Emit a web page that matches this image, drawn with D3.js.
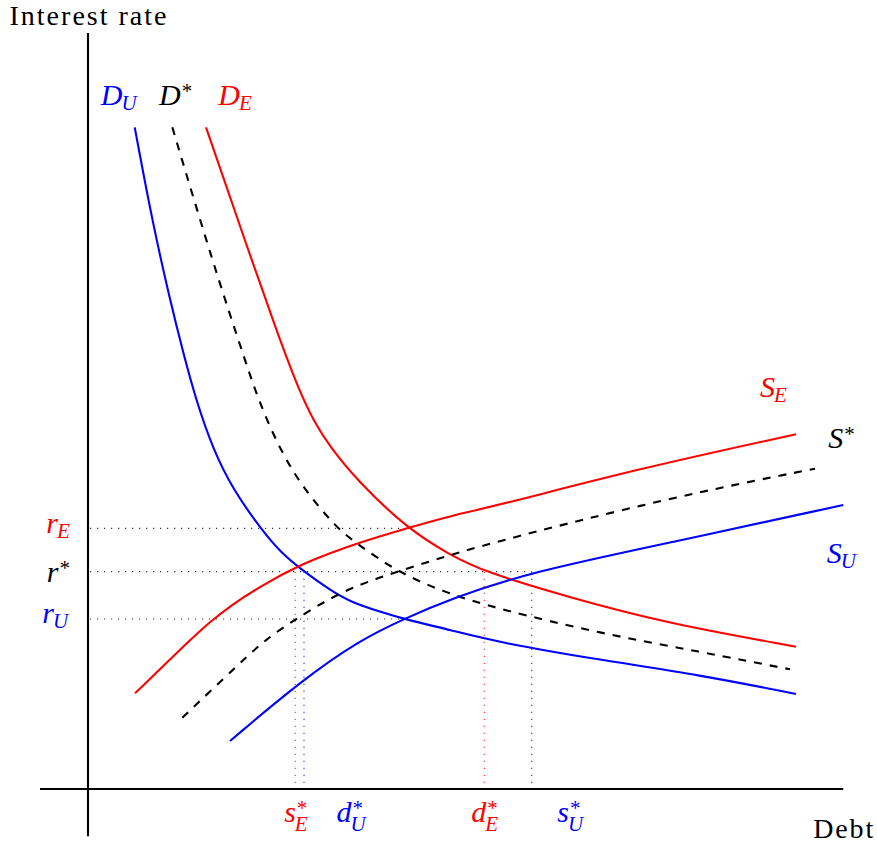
<!DOCTYPE html>
<html>
<head>
<meta charset="utf-8">
<script src="https://cdn.jsdelivr.net/npm/d3@7"></script>
<style>
  html, body { margin: 0; padding: 0; background: #fff; }
  svg { display: block; }
  text { font-family: "Liberation Serif", "Times New Roman", serif; }
</style>
</head>
<body>
<div id="chart"></div>
<script>
// ── Curves (debt, interest rate) ─────────────────────────────
const demandU = [[0.584,8.271],[0.8,7.113],[1.025,6.113],[1.191,5.45],[1.35,4.863],
  [1.566,4.238],[1.816,3.738],[2.171,3.238],[2.4,2.966],[2.7,2.716],[3.025,2.488],
  [3.275,2.341],[3.65,2.216],[3.95,2.125],[4.525,1.988],[5.15,1.829],[6.4,1.613],
  [7.65,1.425],[8.85,1.188]];
const demandStar = [[1.054,8.271],[1.4,7.113],[1.713,6.113],[1.963,5.363],[2.129,4.863],
  [2.4,4.238],[2.691,3.759],[3.109,3.259],[3.359,3.071],[3.859,2.716],[4.484,2.446],
  [5.15,2.246],[6.4,1.946],[7.65,1.716],[8.775,1.496]];
const demandE = [[1.475,8.271],[2.046,6.613],[2.338,5.779],[2.65,4.946],[2.838,4.571],
  [3.025,4.279],[3.359,3.863],[3.984,3.259],[4.525,2.925],[4.954,2.716],[5.984,2.404],
  [7.234,2.071],[8.85,1.779]];
const supplyE = [[0.588,1.196],[1.275,1.863],[1.525,2.088],[1.775,2.288],[2.191,2.556],
  [2.65,2.8],[3.025,2.946],[3.359,3.071],[3.984,3.259],[4.525,3.413],[5.15,3.55],
  [6.816,3.988],[8.85,4.434]];
const supplyStar = [[1.179,0.891],[1.941,1.613],[2.213,1.863],[2.588,2.121],[3.191,2.488],
  [3.859,2.716],[4.525,2.925],[5.15,3.104],[7.234,3.634],[9.088,4.004]];
const supplyU = [[1.775,0.6],[2.65,1.341],[3.4,1.863],[3.95,2.125],[4.525,2.375],
  [5.546,2.716],[7.234,3.071],[9.441,3.55]];

// equilibrium rates and the debt where each dotted guide stops
const rateNames  = ["rE", "rStar", "rU"];
const rateValues = [3.259, 2.716, 2.125];
const rateEnds   = [3.984, 5.546, 3.95];

// quantities at the world rate r*
const qtyNames  = ["sE", "dU", "dE", "sU"];
const qtyValues = [2.591, 2.7, 4.954, 5.546];

const xExtent = [-0.6, 9.44];
const yExtent = [-0.59, 9.45];

// ── Layout ───────────────────────────────────────────────────
const W = 877, H = 845;
const RED = "#ff0000", BLUE = "#0000ff", BLACK = "#000";
const FS = 30, FS_SMALL = 21;

const svg = d3.select("#chart").append("svg")
  .attr("width", W).attr("height", H)
  .attr("viewBox", `0 0 ${W} ${H}`);
svg.append("rect").attr("width", W).attr("height", H).attr("fill", "#fff");

const x = d3.scaleLinear().domain(xExtent).range([40, 843.2]);
const y = d3.scaleLinear().domain(yExtent).range([836.2, 33]);

const line = d3.line()
  .x(d => x(d[0])).y(d => y(d[1]))
  .curve(d3.curveBasis);

// ── Dotted guides ────────────────────────────────────────────
const guides = svg.append("g").attr("fill", "none").attr("stroke-width", 1.2)
  .attr("stroke-dasharray", "1.2,5.8");

rateValues.forEach((r, i) => {
  guides.append("line")
    .attr("x1", x(0) + 2).attr("x2", x(rateEnds[i]))
    .attr("y1", y(r)).attr("y2", y(r))
    .attr("stroke", "#333");
});

const qtyColor = { sE: RED, dU: BLUE, dE: RED, sU: BLUE };
qtyValues.forEach((q, i) => {
  guides.append("line")
    .attr("x1", x(q)).attr("x2", x(q))
    .attr("y1", y(rateValues[1])).attr("y2", y(0))
    .attr("stroke", qtyColor[qtyNames[i]])
    .attr("stroke-opacity", 0.75);
});

// ── Curves ───────────────────────────────────────────────────
const curves = [
  { pts: demandU,    color: BLUE,  dash: null },
  { pts: demandStar, color: BLACK, dash: "8,8" },
  { pts: demandE,    color: RED,   dash: null },
  { pts: supplyE,    color: RED,   dash: null },
  { pts: supplyStar, color: BLACK, dash: "8,8" },
  { pts: supplyU,    color: BLUE,  dash: null }
];
svg.append("g").selectAll("path").data(curves).join("path")
  .attr("d", d => line(d.pts))
  .attr("fill", "none")
  .attr("stroke", d => d.color)
  .attr("stroke-width", 2.1)
  .attr("stroke-dasharray", d => d.dash);

// ── Axes ─────────────────────────────────────────────────────
const axes = svg.append("g").attr("stroke", BLACK).attr("stroke-width", 2.1);
axes.append("line").attr("x1", x(xExtent[0])).attr("x2", x(xExtent[1]))
  .attr("y1", y(0)).attr("y2", y(0));
axes.append("line").attr("x1", x(0)).attr("x2", x(0))
  .attr("y1", y(yExtent[0])).attr("y2", y(yExtent[1]));

svg.append("text").attr("x", x(0)).attr("y", 25)
  .attr("text-anchor", "middle").attr("font-size", 28)
  .attr("textLength", 157).attr("lengthAdjust", "spacing")
  .text("Interest rate");
svg.append("text").attr("x", x(xExtent[1])).attr("y", 838)
  .attr("text-anchor", "middle").attr("font-size", 28)
  .attr("textLength", 60).attr("lengthAdjust", "spacing")
  .text("Debt");

// ── Math labels: italic base, optional superscript / subscript ──
function mathLabel(px, py, base, sub, sup, color, anchor) {
  const t = svg.append("text").attr("fill", color).attr("y", 0);
  t.append("tspan").attr("font-style", "italic").attr("font-size", FS).text(base);
  const w = t.node().getComputedTextLength();
  let shift = 0;
  if (sup) {
    t.append("tspan").attr("dx", 1).attr("dy", -7)
      .attr("font-size", FS_SMALL).text(sup);
    shift = -7;
  }
  if (sub) {
    const drop = sup ? 9.5 : 5;
    t.append("tspan").attr("x", w - 1).attr("dy", drop - shift)
      .attr("font-style", "italic").attr("font-size", FS_SMALL).text(sub);
  }
  const bb = t.node().getBBox();
  const end = bb.x + bb.width;
  const off = anchor === "middle" ? -end / 2 : anchor === "end" ? -end : 0;
  t.attr("transform", `translate(${px + off},${py})`);
}

// curve names
mathLabel(x(0.159), y(8.55), "D", "U", null, BLUE, "start");
mathLabel(x(0.888), y(8.55), "D", null, "*", BLACK, "start");
mathLabel(x(1.629), y(8.55), "D", "E", null, RED, "start");
mathLabel(x(8.4),   y(4.904), "S", "E", null, RED, "start");
mathLabel(x(9.254), y(4.259), "S", null, "*", BLACK, "start");
mathLabel(x(9.234), y(2.829), "S", "U", null, BLUE, "start");

// rates on the vertical axis
mathLabel(x(-0.225), y(3.196), "r", "E", null, RED, "end");
mathLabel(x(-0.225), y(2.591), "r", null, "*", BLACK, "end");
mathLabel(x(-0.225), y(2.075), "r", "U", null, BLUE, "end");

// quantities on the horizontal axis
const qtyLabelX = [2.6, 3.3, 4.96, 6.04];
const qtyBase = { sE: ["s", "E"], dU: ["d", "U"], dE: ["d", "E"], sU: ["s", "U"] };
qtyNames.forEach((n, i) => {
  mathLabel(x(qtyLabelX[i]), y(-0.409), qtyBase[n][0], qtyBase[n][1], "*",
    qtyColor[n], "middle");
});
</script>
</body>
</html>
